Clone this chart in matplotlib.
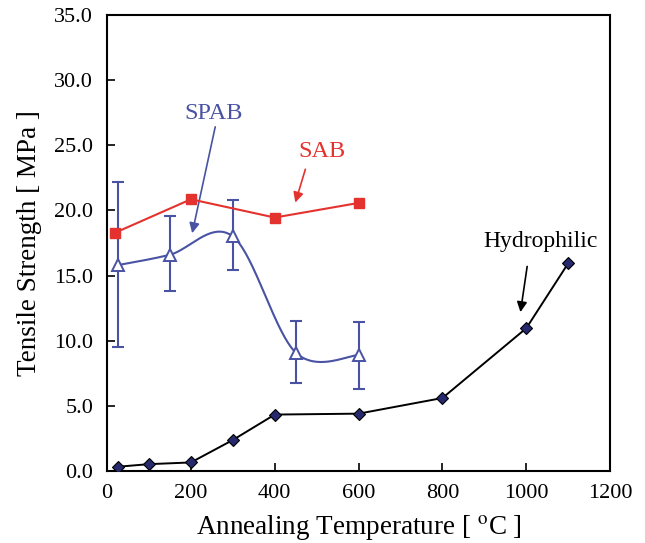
import numpy as np
import matplotlib

matplotlib.use("Agg")
import matplotlib.pyplot as plt

# data
hydro_t = [25, 100, 200, 300, 400, 600, 800, 1000, 1100]
hydro_s = [0.35, 0.55, 0.68, 2.4, 4.35, 4.42, 5.62, 10.97, 15.95]

sab_t = [20, 200, 400, 600]
sab_s = [18.3, 20.85, 19.45, 20.57]

spab_t = [25, 150, 300, 450, 600]
spab_s = [15.8, 16.6, 18.0, 9.1, 8.9]
spab_hi = [22.2, 19.6, 20.8, 11.55, 11.45]
spab_lo = [9.5, 13.8, 15.4, 6.8, 6.3]

RED = "#E4322F"
BLUE = "#4953A3"
NAVY = "#26296E"


def smooth_curve(xs, ys, n=40):
    # Excel style smoothed line: cubic Bezier segments, Catmull-Rom tangents
    p = np.column_stack([xs, ys]).astype(float)
    pts = [p[0]]
    for i in range(len(p) - 1):
        prev = p[i - 1] if i > 0 else p[i]
        nxt = p[i + 2] if i + 2 < len(p) else p[i + 1]
        c1 = p[i] + (p[i + 1] - prev) / 6.0
        c2 = p[i + 1] - (nxt - p[i]) / 6.0
        t = np.linspace(0, 1, n)[1:, None]
        seg = ((1 - t) ** 3 * p[i] + 3 * (1 - t) ** 2 * t * c1
               + 3 * (1 - t) * t ** 2 * c2 + t ** 3 * p[i + 1])
        pts.extend(seg)
    pts = np.array(pts)
    return pts[:, 0], pts[:, 1]


plt.rcParams["font.family"] = ["Liberation Serif", "DejaVu Serif"]
plt.rcParams["mathtext.fontset"] = "stix"

fig = plt.figure(figsize=(6.45, 5.43), dpi=100)
ax = fig.add_axes([0.166, 0.132, 0.780, 0.841])

# SPAB
cx, cy = smooth_curve(spab_t, spab_s)
ax.plot(cx, cy, color=BLUE, lw=1.5, zorder=3)
err = [np.array(spab_s) - np.array(spab_lo), np.array(spab_hi) - np.array(spab_s)]
ax.errorbar(spab_t, spab_s, yerr=err, fmt="none", ecolor=BLUE,
            elinewidth=1.5, capsize=4, capthick=1.5, zorder=3)
ax.plot(spab_t, spab_s, "^", ms=8, mfc="white", mec=BLUE, mew=1.4,
        ls="none", zorder=4)

# SAB
ax.plot(sab_t, sab_s, "-s", color=RED, lw=1.5, ms=7.5, mec=RED, zorder=5)

# Hydrophilic
ax.plot(hydro_t, hydro_s, "-D", color="black", lw=1.4, ms=6.5,
        mfc=NAVY, mec="black", mew=0.8, zorder=5)

# labels with arrows
arrow = dict(arrowstyle="-|>", lw=1.2, mutation_scale=15, shrinkA=0, shrinkB=0)
ax.annotate("", xy=(203, 18.25), xytext=(258, 26.4),
            arrowprops=dict(arrow, color=BLUE))
ax.text(255, 27.45, "SPAB", color=BLUE, fontsize=17.5, ha="center", va="center")
ax.annotate("", xy=(449, 20.6), xytext=(473, 23.15),
            arrowprops=dict(arrow, color=RED))
ax.text(513, 24.55, "SAB", color=RED, fontsize=17.5, ha="center", va="center")
ax.annotate("", xy=(986, 12.2), xytext=(1002, 15.7),
            arrowprops=dict(arrow, color="black"))
ax.text(1033, 17.6, "Hydrophilic", color="black", fontsize=17,
        ha="center", va="center")

ax.set_xlim(0, 1200)
ax.set_ylim(0, 35)
ax.set_xticks(range(0, 1201, 200))
ax.set_yticks(np.arange(0, 35.1, 5))
ax.set_yticklabels([f"{v:.1f}" for v in np.arange(0, 35.1, 5)])
ax.tick_params(direction="in", length=6, width=1.2, labelsize=16)
ax.tick_params(axis="y", pad=10)
ax.tick_params(axis="x", pad=9)
for s in ax.spines.values():
    s.set_linewidth(1.5)

ax.set_xlabel(r"Annealing Temperature [ $^{\mathrm{o}}$C ]", fontsize=19.5, labelpad=7)
ax.set_ylabel("Tensile Strength [ MPa ]", fontsize=19.5, labelpad=9)

fig.savefig("out.png", dpi=100)
